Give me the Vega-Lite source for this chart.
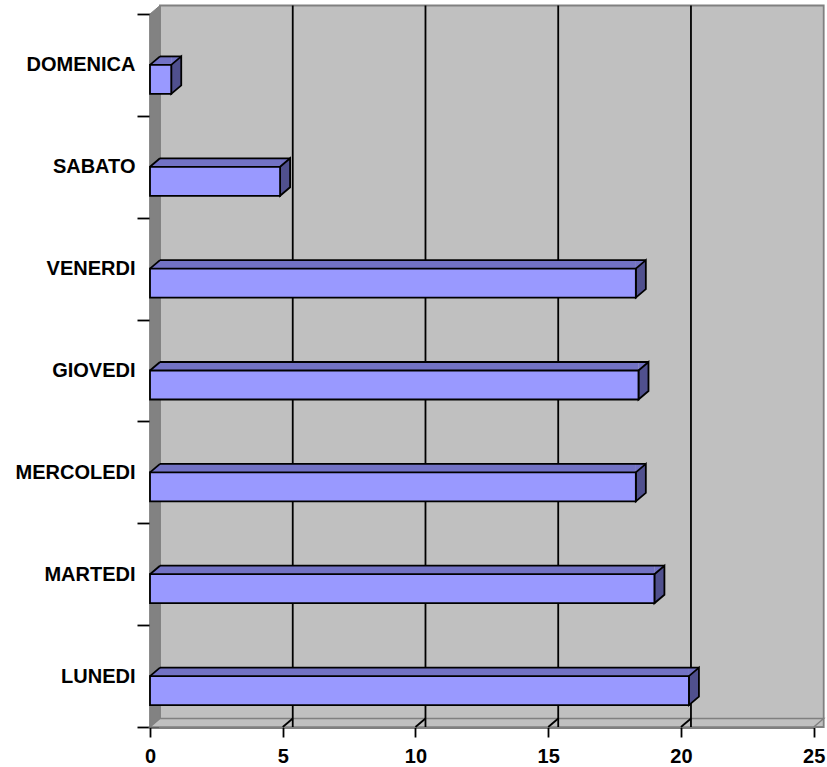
{
  "$schema": "https://vega.github.io/schema/vega-lite/v6.json",
  "width": 663.7,
  "height": 713,
  "autosize": {"type": "none"},
  "padding": {"left": 150, "top": 14, "right": 13.3, "bottom": 40},
  "background": "white",
  "config": {
    "view": {"stroke": null},
    "font": "Liberation Sans",
    "axisX": {"tickCount": 5, "labelFlush": false, "title": null, "grid": false, "zindex": 2,
      "domainColor": "#000000", "domainWidth": 1.8, "tickColor": "#000000", "tickWidth": 1.8, "tickSize": 10,
      "labelFont": "Liberation Sans", "labelFontWeight": "bold", "labelFontSize": 20, "labelColor": "#000000", "labelPadding": 9},
    "axisY": {"title": null, "grid": false, "zindex": 2, "tickBand": "extent",
      "domainColor": "#000000", "domainWidth": 1.8, "tickColor": "#000000", "tickWidth": 1.8, "tickSize": 13,
      "labelFont": "Liberation Sans", "labelFontWeight": "bold", "labelFontSize": 20, "labelColor": "#000000", "labelPadding": 2}
  },
  "datasets": {
    "days": [
      {"day": "DOMENICA", "v": 0.8},
      {"day": "SABATO", "v": 4.9},
      {"day": "VENERDI", "v": 18.3},
      {"day": "GIOVEDI", "v": 18.4},
      {"day": "MERCOLEDI", "v": 18.3},
      {"day": "MARTEDI", "v": 19.0},
      {"day": "LUNEDI", "v": 20.3}
    ],
    "grid": [{"t": 5}, {"t": 10}, {"t": 15}, {"t": 20}],
    "frame": [{"lo": 0, "hi": 25}]
  },
  "layer": [
    {
      "description": "back wall",
      "data": {"name": "frame"},
      "mark": {"type": "rect", "fill": "#c0c0c0", "stroke": "#808080", "strokeWidth": 1.8, "xOffset": 10, "x2Offset": 10, "yOffset": -8.5, "y2Offset": -8.5},
      "encoding": {
        "x": {"field": "lo", "type": "quantitative", "scale": {"domain": [0, 25]}, "title": null},
        "x2": {"field": "hi"}
      }
    },
    {
      "description": "left wall",
      "data": {"name": "frame"},
      "mark": {"type": "point", "shape": "M0,0L10,-8.5L10,704.5L0,713Z", "size": 4, "filled": true, "fill": "#828282", "stroke": "#808080", "strokeWidth": 1, "opacity": 1},
      "encoding": {
        "x": {"field": "lo", "type": "quantitative", "scale": {"domain": [0, 25]}, "title": null},
        "y": {"datum": "DOMENICA", "type": "nominal", "bandPosition": 0, "scale": {"domain": ["DOMENICA", "SABATO", "VENERDI", "GIOVEDI", "MERCOLEDI", "MARTEDI", "LUNEDI"], "paddingInner": 0, "paddingOuter": 0}, "title": null}
      }
    },
    {
      "description": "floor",
      "data": {"name": "frame"},
      "mark": {"type": "point", "shape": "M0,0L663.7,0L673.7,-8.5L10,-8.5Z", "size": 4, "filled": true, "fill": "#c0c0c0", "stroke": "#808080", "strokeWidth": 1.4, "opacity": 1},
      "encoding": {
        "x": {"field": "lo", "type": "quantitative", "scale": {"domain": [0, 25]}, "title": null},
        "y": {"datum": "LUNEDI", "type": "nominal", "bandPosition": 1, "scale": {"domain": ["DOMENICA", "SABATO", "VENERDI", "GIOVEDI", "MERCOLEDI", "MARTEDI", "LUNEDI"], "paddingInner": 0, "paddingOuter": 0}, "title": null}
      }
    },
    {
      "description": "gridlines on the back wall",
      "data": {"name": "grid"},
      "mark": {"type": "rule", "stroke": "#000000", "strokeWidth": 1.8, "xOffset": 10, "yOffset": -8.5, "y2Offset": -8.5},
      "encoding": {
        "x": {"field": "t", "type": "quantitative", "scale": {"domain": [0, 25]}, "title": null}
      }
    },
    {
      "description": "gridlines across the floor",
      "data": {"name": "grid"},
      "mark": {"type": "point", "shape": "M0,0L10,-8.5", "size": 4, "filled": false, "stroke": "#000000", "strokeWidth": 1.8, "opacity": 1},
      "encoding": {
        "x": {"field": "t", "type": "quantitative", "scale": {"domain": [0, 25]}, "title": null},
        "y": {"datum": "LUNEDI", "type": "nominal", "bandPosition": 1, "scale": {"domain": ["DOMENICA", "SABATO", "VENERDI", "GIOVEDI", "MERCOLEDI", "MARTEDI", "LUNEDI"], "paddingInner": 0, "paddingOuter": 0}, "title": null}
      }
    },
    {
      "description": "bar top faces",
      "data": {"name": "days"},
      "mark": {"type": "bar", "fill": "#7272c4", "strokeWidth": 0, "size": 8.5, "yOffset": -4.25, "x2Offset": 10},
      "encoding": {
        "x": {"field": "v", "type": "quantitative", "scale": {"domain": [0, 25]}, "title": null},
        "x2": {"datum": 0},
        "y": {"field": "day", "type": "nominal", "scale": {"domain": ["DOMENICA", "SABATO", "VENERDI", "GIOVEDI", "MERCOLEDI", "MARTEDI", "LUNEDI"], "paddingInner": 0, "paddingOuter": 0}, "title": null}
      }
    },
    {
      "description": "top face, left corner",
      "data": {"name": "days"},
      "mark": {"type": "point", "shape": "M0,0L10,0L10,-8.5Z", "size": 4, "filled": true, "fill": "#7272c4", "strokeWidth": 0, "opacity": 1},
      "encoding": {
        "x": {"datum": 0, "type": "quantitative", "scale": {"domain": [0, 25]}, "title": null},
        "y": {"field": "day", "type": "nominal", "scale": {"domain": ["DOMENICA", "SABATO", "VENERDI", "GIOVEDI", "MERCOLEDI", "MARTEDI", "LUNEDI"], "paddingInner": 0, "paddingOuter": 0}, "title": null}
      }
    },
    {
      "description": "top face, right corner",
      "data": {"name": "days"},
      "mark": {"type": "point", "shape": "M0,0L0,-8.5L10,-8.5Z", "size": 4, "filled": true, "fill": "#7272c4", "strokeWidth": 0, "opacity": 1},
      "encoding": {
        "x": {"field": "v", "type": "quantitative", "scale": {"domain": [0, 25]}, "title": null},
        "y": {"field": "day", "type": "nominal", "scale": {"domain": ["DOMENICA", "SABATO", "VENERDI", "GIOVEDI", "MERCOLEDI", "MARTEDI", "LUNEDI"], "paddingInner": 0, "paddingOuter": 0}, "title": null}
      }
    },
    {
      "description": "bar side faces",
      "data": {"name": "days"},
      "mark": {"type": "point", "shape": "M0,0L10,-8.5L10,20.5L0,29Z", "size": 4, "filled": true, "fill": "#50508e", "stroke": "#000000", "strokeWidth": 1.8, "opacity": 1},
      "encoding": {
        "x": {"field": "v", "type": "quantitative", "scale": {"domain": [0, 25]}, "title": null},
        "y": {"field": "day", "type": "nominal", "scale": {"domain": ["DOMENICA", "SABATO", "VENERDI", "GIOVEDI", "MERCOLEDI", "MARTEDI", "LUNEDI"], "paddingInner": 0, "paddingOuter": 0}, "title": null}
      }
    },
    {
      "description": "top face back edge",
      "data": {"name": "days"},
      "mark": {"type": "rule", "stroke": "#000000", "strokeWidth": 1.8, "xOffset": 10, "x2Offset": 10, "yOffset": -8.5},
      "encoding": {
        "x": {"field": "v", "type": "quantitative", "scale": {"domain": [0, 25]}, "title": null},
        "x2": {"datum": 0},
        "y": {"field": "day", "type": "nominal", "scale": {"domain": ["DOMENICA", "SABATO", "VENERDI", "GIOVEDI", "MERCOLEDI", "MARTEDI", "LUNEDI"], "paddingInner": 0, "paddingOuter": 0}, "title": null}
      }
    },
    {
      "description": "top face left edge",
      "data": {"name": "days"},
      "mark": {"type": "point", "shape": "M0,0L10,-8.5", "size": 4, "filled": false, "stroke": "#000000", "strokeWidth": 1.8, "opacity": 1},
      "encoding": {
        "x": {"datum": 0, "type": "quantitative", "scale": {"domain": [0, 25]}, "title": null},
        "y": {"field": "day", "type": "nominal", "scale": {"domain": ["DOMENICA", "SABATO", "VENERDI", "GIOVEDI", "MERCOLEDI", "MARTEDI", "LUNEDI"], "paddingInner": 0, "paddingOuter": 0}, "title": null}
      }
    },
    {
      "description": "bar front faces",
      "data": {"name": "days"},
      "mark": {"type": "bar", "fill": "#9999ff", "stroke": "#000000", "strokeWidth": 1.8, "size": 29, "yOffset": 14.5},
      "encoding": {
        "x": {"field": "v", "type": "quantitative", "scale": {"domain": [0, 25]}, "title": null},
        "y": {"field": "day", "type": "nominal", "scale": {"domain": ["DOMENICA", "SABATO", "VENERDI", "GIOVEDI", "MERCOLEDI", "MARTEDI", "LUNEDI"], "paddingInner": 0, "paddingOuter": 0}, "title": null}
      }
    }
  ]
}
